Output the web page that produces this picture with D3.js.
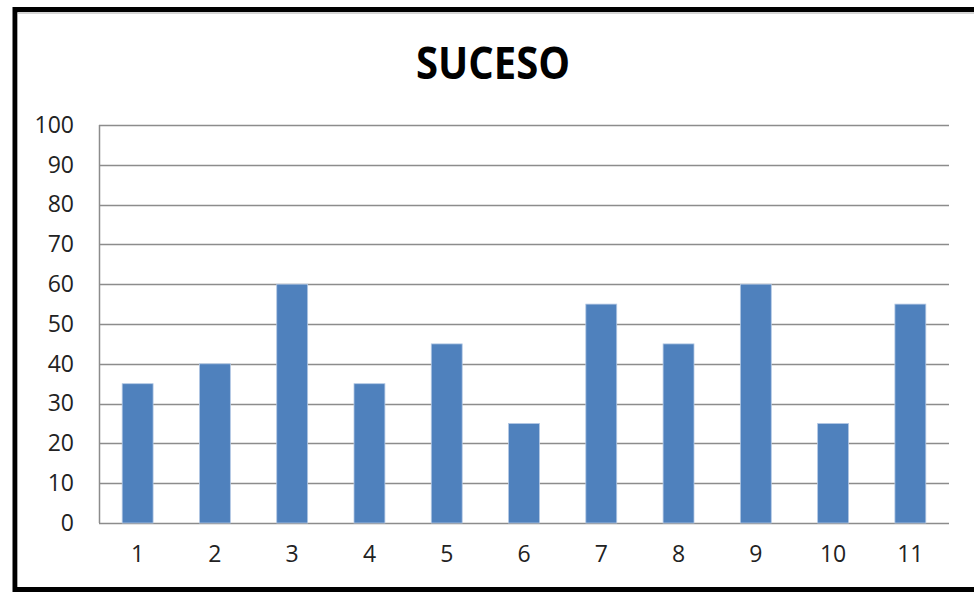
<!DOCTYPE html>
<html>
<head>
<meta charset="utf-8">
<script src="https://cdn.jsdelivr.net/npm/d3@7"></script>
<style>
  body { margin: 0; background: #fff; }
  svg { display: block; }
</style>
</head>
<body>
<script>
// chart data
const categories = ['1', '2', '3', '4', '5', '6', '7', '8', '9', '10', '11'];
const values = [35, 40, 60, 35, 45, 25, 55, 45, 60, 25, 55];
const yTicks = [0, 10, 20, 30, 40, 50, 60, 70, 80, 90, 100];
const title = 'SUCESO';

// svg dimensions
const w = 974
const h = 592

// plot area
const plotLeft = 99
const plotRight = 949
const plotTop = 125
const plotBottom = 523

const svg = d3.select('body')
    .append('svg')
    .attr('width', w)
    .attr('height', h);

// outer frame (runs off the right side of the picture)
svg.append('rect')
    .attr('x', 15)
    .attr('y', 9.5)
    .attr('width', 1000)
    .attr('height', 580)
    .attr('fill', '#fff')
    .attr('stroke', '#000')
    .attr('stroke-width', 5);

svg.append('path')
    .attr('d', `M17.5,587 V13 H${w}`)
    .attr('fill', 'none')
    .attr('stroke', '#aaa')
    .attr('stroke-width', 1);

const x = d3.scaleBand()
    .domain(categories)
    .range([plotLeft, plotRight])
    .paddingInner(0.6)
    .paddingOuter(0.3);

const y = d3.scaleLinear()
    .domain([0, 100])
    .range([plotBottom, plotTop]);

// gridlines
svg.append('g')
    .selectAll('line')
    .data(yTicks)
    .enter()
    .append('line')
    .attr('x1', plotLeft)
    .attr('x2', plotRight)
    .attr('y1', d => Math.round(y(d)) + 0.5)
    .attr('y2', d => Math.round(y(d)) + 0.5)
    .attr('stroke', '#8c8c8c')
    .attr('stroke-width', 1.5);

// bars
svg.append('g')
    .selectAll('rect')
    .data(values)
    .enter()
    .append('rect')
    .attr('x', (d, i) => x(categories[i]))
    .attr('y', d => y(d))
    .attr('width', x.bandwidth())
    .attr('height', d => y(0) - y(d))
    .attr('fill', '#4f81bd')
    .attr('stroke', '#b3c8e4')
    .attr('stroke-width', 0.8);

// y axis line
svg.append('line')
    .attr('x1', plotLeft + 0.5)
    .attr('x2', plotLeft + 0.5)
    .attr('y1', plotTop)
    .attr('y2', plotBottom)
    .attr('stroke', '#8c8c8c')
    .attr('stroke-width', 1.5);

const yAxis = svg.append('g')
    .attr('transform', `translate(${plotLeft},0)`)
    .call(d3.axisLeft(y).tickValues(yTicks).tickSize(0).tickPadding(25));
yAxis.select('.domain').remove();
yAxis.selectAll('text')
    .attr('font-family', 'Open Sans, sans-serif')
    .attr('font-size', 23)
    .attr('fill', '#222');

const xAxis = svg.append('g')
    .attr('transform', `translate(0,${plotBottom})`)
    .call(d3.axisBottom(x).tickSize(0).tickPadding(23));
xAxis.select('.domain').remove();
xAxis.selectAll('text')
    .attr('font-family', 'Open Sans, sans-serif')
    .attr('font-size', 23)
    .attr('fill', '#222');

svg.append('text')
    .attr('x', 493)
    .attr('y', 79)
    .attr('text-anchor', 'middle')
    .attr('font-family', 'Open Sans, sans-serif')
    .attr('font-weight', 'bold')
    .attr('font-size', 44)
    .attr('textLength', 154)
    .attr('lengthAdjust', 'spacingAndGlyphs')
    .attr('fill', '#000')
    .text(title);
</script>
</body>
</html>
